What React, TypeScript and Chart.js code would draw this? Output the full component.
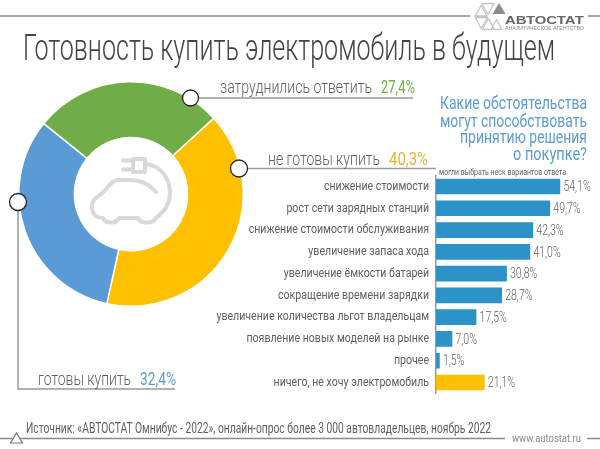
import React, { useEffect, useRef } from "react";
import { Chart, registerables } from "chart.js";

Chart.register(...registerables);

const sliceLabels = ["не готовы купить", "готовы купить", "затруднились ответить"];
const sliceValues = [40.3, 32.4, 27.4];
const sliceColors = ["#ffc000", "#5b9bd5", "#70ad47"];

const reasons = [
  "снижение стоимости",
  "рост сети зарядных станций",
  "снижение стоимости обслуживания",
  "увеличение запаса хода",
  "увеличение ёмкости батарей",
  "сокращение времени зарядки",
  "увеличение количества льгот владельцам",
  "появление новых моделей на рынке",
  "прочее",
  "ничего, не хочу электромобиль",
];
const reasonValues = [54.1, 49.7, 42.3, 41.0, 30.8, 28.7, 17.5, 7.0, 1.5, 21.1];
const reasonColors = ["#2b93c8", "#2b93c8", "#2b93c8", "#2b93c8", "#2b93c8", "#2b93c8", "#2b93c8", "#2b93c8", "#2b93c8", "#ffc000"];

const FONT = 'Roboto, "Noto Sans", sans-serif';
const GREY = "#5f6062";
const LINE = "#9a9a9a";
const fmt = (v: number) => v.toFixed(1).replace(".", ",") + "%";

const condensedTicks = {
  id: "condensedTicks",
  beforeDraw(chart: any) {
    const s = chart.scales.y;
    if (s.__wrapped) return;
    s.__wrapped = true;
    const orig = s.drawLabels.bind(s);
    s.drawLabels = (area: any) => {
      const { ctx } = chart;
      const ax = s.right;
      ctx.save();
      ctx.translate(ax, 0);
      ctx.scale(0.815, 1);
      ctx.translate(-ax, 0);
      orig(area);
      ctx.restore();
    };
  },
};

const valueLabels = {
  id: "valueLabels",
  afterDatasetsDraw(chart: any) {
    const { ctx } = chart;
    const meta = chart.getDatasetMeta(0);
    ctx.save();
    ctx.font = `300 15px ${FONT}`;
    ctx.fillStyle = GREY;
    ctx.textBaseline = "middle";
    ctx.textAlign = "left";
    meta.data.forEach((bar: any, i: number) => {
      const text = fmt(reasonValues[i]);
      ctx.fillText(text, bar.x + 3.5, bar.y + 1, ctx.measureText(text).width * 0.7);
    });
    ctx.restore();
  },
};

function T(p: { x: number; y: number; w?: number; s: number; c?: string; a?: "start" | "end"; wt?: number; children: string }) {
  return (
    <text
      x={p.x}
      y={p.y}
      fontSize={p.s}
      fontWeight={p.wt || 300}
      fill={p.c || GREY}
      textAnchor={p.a || "start"}
      fontFamily={FONT}
      textLength={p.w}
      lengthAdjust={p.w ? "spacingAndGlyphs" : undefined}
    >
      {p.children}
    </text>
  );
}

export default function App() {
  const donutRef = useRef<HTMLCanvasElement>(null);
  const barRef = useRef<HTMLCanvasElement>(null);

  useEffect(() => {
    document.body.style.margin = "0";
    document.body.style.background = "#fff";
    const donut = new Chart(donutRef.current!, {
      type: "doughnut",
      data: {
        labels: sliceLabels,
        datasets: [{ data: sliceValues, backgroundColor: sliceColors, borderColor: "#ffffff", borderWidth: 1.5 }],
      },
      options: {
        animation: false,
        responsive: false,
        rotation: 47.5,
        cutout: "50.4%",
        layout: { padding: 7 },
        plugins: { legend: { display: false }, tooltip: { enabled: false } },
      },
    });
    const bar = new Chart(barRef.current!, {
      type: "bar",
      data: {
        labels: reasons,
        datasets: [{ data: reasonValues, backgroundColor: reasonColors, barThickness: 15 }],
      },
      options: {
        indexAxis: "y",
        animation: false,
        responsive: false,
        layout: { padding: { top: 175.6, bottom: 55.6, right: 3.7, left: 0 } },
        plugins: { legend: { display: false }, tooltip: { enabled: false } },
        scales: {
          x: { display: false, min: 0, max: 70 },
          y: {
            afterFit(s: any) {
              s.width = 436;
            },
            grid: { display: false, drawTicks: false },
            border: { display: true, color: LINE, width: 1.5 },
            ticks: { color: GREY, padding: 8.5, autoSkip: false, font: { family: FONT, size: 13 } },
          },
        },
      },
      plugins: [condensedTicks, valueLabels],
    });
    return () => {
      donut.destroy();
      bar.destroy();
    };
  }, []);

  return (
    <div style={{ position: "relative", width: 600, height: 449, overflow: "hidden", background: "#fff" }}>
      <canvas ref={barRef} width={600} height={449} style={{ position: "absolute", left: 0, top: 0 }} />
      <canvas ref={donutRef} width={240} height={240} style={{ position: "absolute", left: 10.5, top: 73.5 }} />
      <svg width={600} height={449} style={{ position: "absolute", left: 0, top: 0 }}>
        {/* rules */}
        <path d="M0 16H470M588 16H600M0 438.5H505M587 438.5H600" stroke="#8a8a8a" strokeWidth={1.5} fill="none" />
        {/* logo */}
        <g fill="none" stroke="#c4c4c4" strokeWidth={1.3} strokeLinejoin="round">
          <path d="M482 3.5H494L488 14.5ZM475 16H487L481 5.5ZM475.5 17.5H487.5L481 28.5ZM482.5 29.5H494.5L488.5 18.5ZM491 29.5L496.5 19.5L502 29.5Z" />
        </g>
        <path d="M499 3L505.5 14H492.5Z" fill="#8c8c8c" />
        <text x={505} y={23.5} fontSize={11} fontWeight={700} fill="#666" fontFamily='"Liberation Sans", sans-serif' textLength={79} lengthAdjust="spacingAndGlyphs">АВТОСТАТ</text>
        <text x={505} y={29.5} fontSize={4.5} fill="#888" fontFamily='"Liberation Sans", sans-serif' textLength={79} lengthAdjust="spacingAndGlyphs">АНАЛИТИЧЕСКОЕ АГЕНТСТВО</text>
        {/* title */}
        <T x={23} y={60} s={37} w={532} c="#444">Готовность купить электромобиль в будущем</T>
        {/* callouts */}
        <path d="M190 98H413" stroke={LINE} strokeWidth={1.5} fill="none" />
        <path d="M239 168.5H436" stroke={LINE} strokeWidth={1.5} fill="none" />
        <path d="M18 202V389H175" stroke={LINE} strokeWidth={1.5} fill="none" />
        <T x={220} y={93} s={18} w={152}>затруднились ответить</T>
        <T x={381} y={93} s={19} w={34} c="#70ad47" wt={400}>27,4%</T>
        <T x={268} y={165} s={18} w={112}>не готовы купить</T>
        <T x={389} y={165} s={19} w={39} c="#e8b23a" wt={400}>40,3%</T>
        <T x={38} y={385} s={18} w={93}>готовы купить</T>
        <T x={140} y={385} s={19} w={36} c="#5b9bd5" wt={400}>32,4%</T>
        {/* question */}
        <T x={587} y={109} s={19} a="end" w={147} c="#5b9bd5" wt={400}>Какие обстоятельства</T>
        <T x={587} y={127} s={19} a="end" w={147} c="#5b9bd5" wt={400}>могут способствовать</T>
        <T x={587} y={143} s={19} a="end" w={127} c="#5b9bd5" wt={400}>принятию решения</T>
        <T x={587} y={160} s={19} a="end" w={74} c="#5b9bd5" wt={400}>о покупке?</T>
        <T x={439} y={175} s={9.5} w={127} wt={400}>могли выбрать неск вариантов ответа</T>
        {/* source */}
        <T x={26} y={433} s={14} w={465} wt={400}>Источник: «АВТОСТАТ Омнибус - 2022», онлайн-опрос более 3 000 автовладельцев, ноябрь 2022</T>
        <T x={512} y={442} s={11.5} w={69} c="#8a8a8a" wt={400}>www.autostat.ru</T>
        <path d="M16.5 433l6 10h-12z" fill="#fff" stroke="#777" strokeWidth={1.2} />
        {/* car icon */}
        <g fill="none" stroke="#d9d9d9" strokeWidth={4} strokeLinecap="round" strokeLinejoin="round">
          <path d="M156 192C148 183 140 180 128 180H118C111 180 107 190 100 195C93 199 91 203 92 209C93 215 96 218 103 218C105 224 117 224 119 218H138C140 224 153 224 156 218C163 213 170 206 170 193C170 180 162 166 146 164" />
          <path d="M133 159H145V172H133ZM123 160.5H133M123 169.5H133" />
        </g>
        {/* markers */}
        <circle cx={190.5} cy={98} r={8} fill="#fff" stroke="#222" strokeWidth={1.3} />
        <circle cx={239} cy={168.5} r={8.5} fill="#fff" stroke="#222" strokeWidth={1.3} />
        <circle cx={18} cy={202} r={8.5} fill="#fff" stroke="#222" strokeWidth={1.3} />
      </svg>
    </div>
  );
}
